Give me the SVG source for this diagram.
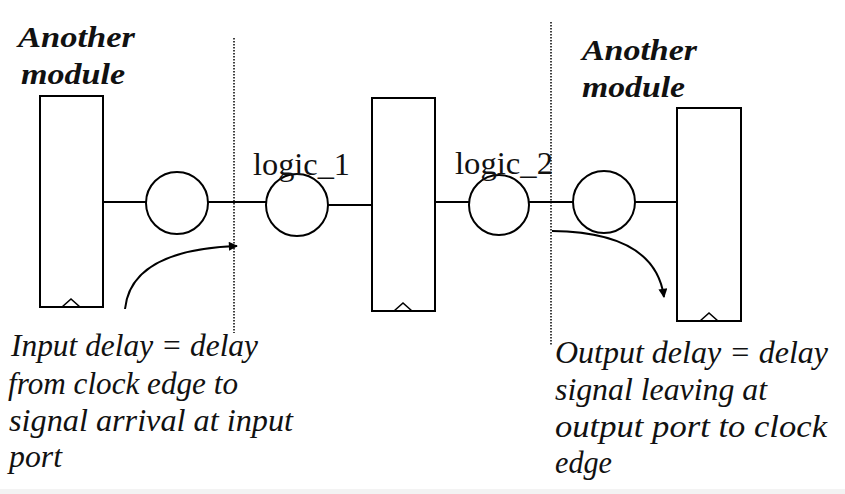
<svg xmlns="http://www.w3.org/2000/svg" width="845" height="494" viewBox="0 0 845 494">
<defs>
<style>
.box{fill:#fff;stroke:#000;stroke-width:2}
.gate{fill:#fff;stroke:#000;stroke-width:2}
.clk{fill:none;stroke:#000;stroke-width:1.6}
.wire{stroke:#000;stroke-width:2;fill:none}
.dot{stroke:#000;stroke-width:1.5;stroke-dasharray:1.5,1.5;fill:none}
.arc{stroke:#000;stroke-width:2;fill:none;marker-end:url(#ah)}
.mod{font-family:"Liberation Serif","Times New Roman",serif;font-style:italic;font-weight:bold;font-size:29px;fill:#111}
.lbl{font-family:"Liberation Serif","Times New Roman",serif;font-size:32px;fill:#111}
.note{font-family:"Liberation Serif","Times New Roman",serif;font-style:italic;font-size:32px;fill:#111}
</style>
<marker id="ah" viewBox="0 0 10 10" refX="9" refY="5" markerWidth="11" markerHeight="9" markerUnits="userSpaceOnUse" orient="auto">
<path d="M0,0 L10,5 L0,10 Z" fill="#000"/>
</marker>
</defs>
<rect x="0" y="0" width="845" height="494" fill="#fff"/>
<rect x="0" y="489" width="845" height="5" fill="#f3f3f3"/>

<g id="connectors">
<line class="wire" x1="103" y1="202" x2="146" y2="202"/>
<line class="wire" x1="208" y1="202" x2="266" y2="202"/>
<line class="wire" x1="328" y1="205" x2="372" y2="205"/>
<line class="wire" x1="435" y1="202" x2="469" y2="202"/>
<line class="wire" x1="529" y1="202" x2="573" y2="202"/>
<line class="wire" x1="635" y1="202" x2="677" y2="202"/>
<line class="dot" x1="234" y1="38" x2="234" y2="333"/>
<line class="dot" x1="551" y1="22" x2="551" y2="346"/>
<path class="arc" d="M125,309 Q131,250 237,246"/>
<path class="arc" d="M552,231 Q655,232 664,297"/>
</g>

<g id="module-left">
<text class="mod" x="18" y="47" textLength="117" lengthAdjust="spacingAndGlyphs">Another</text>
<text class="mod" x="21" y="84" textLength="104" lengthAdjust="spacingAndGlyphs">module</text>
</g>
<g id="ff-left">
<rect class="box" x="40" y="96" width="63" height="211"/>
<path class="clk" d="M62,307 L71,299 L80,307"/>
</g>
<g id="gate-left"><circle class="gate" cx="177" cy="203" r="31"/></g>

<g id="logic-1">
<circle class="gate" cx="297" cy="205" r="31"/>
<text class="lbl" x="253" y="175" textLength="97" lengthAdjust="spacingAndGlyphs">logic_1</text>
</g>
<g id="ff-mid">
<rect class="box" x="372" y="98" width="63" height="213"/>
<path class="clk" d="M394,311 L403,303 L412,311"/>
</g>
<g id="logic-2">
<circle class="gate" cx="499" cy="205" r="30"/>
<text class="lbl" x="455" y="174" textLength="98" lengthAdjust="spacingAndGlyphs">logic_2</text>
</g>
<g id="gate-right"><circle class="gate" cx="604" cy="202" r="31"/></g>

<g id="module-right">
<text class="mod" x="582" y="60" textLength="115" lengthAdjust="spacingAndGlyphs">Another</text>
<text class="mod" x="582" y="97" textLength="103" lengthAdjust="spacingAndGlyphs">module</text>
</g>
<g id="ff-right">
<rect class="box" x="677" y="108" width="64" height="213"/>
<path class="clk" d="M700,321 L709,313 L718,321"/>
</g>

<g id="note-input">
<text class="note" x="11" y="356" textLength="247" lengthAdjust="spacingAndGlyphs">Input delay = delay</text>
<text class="note" x="8" y="394" textLength="230" lengthAdjust="spacingAndGlyphs">from clock edge to</text>
<text class="note" x="9" y="431" textLength="284" lengthAdjust="spacingAndGlyphs">signal arrival at input</text>
<text class="note" x="9" y="467" textLength="53" lengthAdjust="spacingAndGlyphs">port</text>
</g>
<g id="note-output">
<text class="note" x="555" y="363" textLength="273" lengthAdjust="spacingAndGlyphs">Output delay = delay</text>
<text class="note" x="555" y="400" textLength="212" lengthAdjust="spacingAndGlyphs">signal leaving at</text>
<text class="note" x="555" y="437" textLength="272" lengthAdjust="spacingAndGlyphs">output port to clock</text>
<text class="note" x="555" y="473" textLength="57" lengthAdjust="spacingAndGlyphs">edge</text>
</g>
</svg>
